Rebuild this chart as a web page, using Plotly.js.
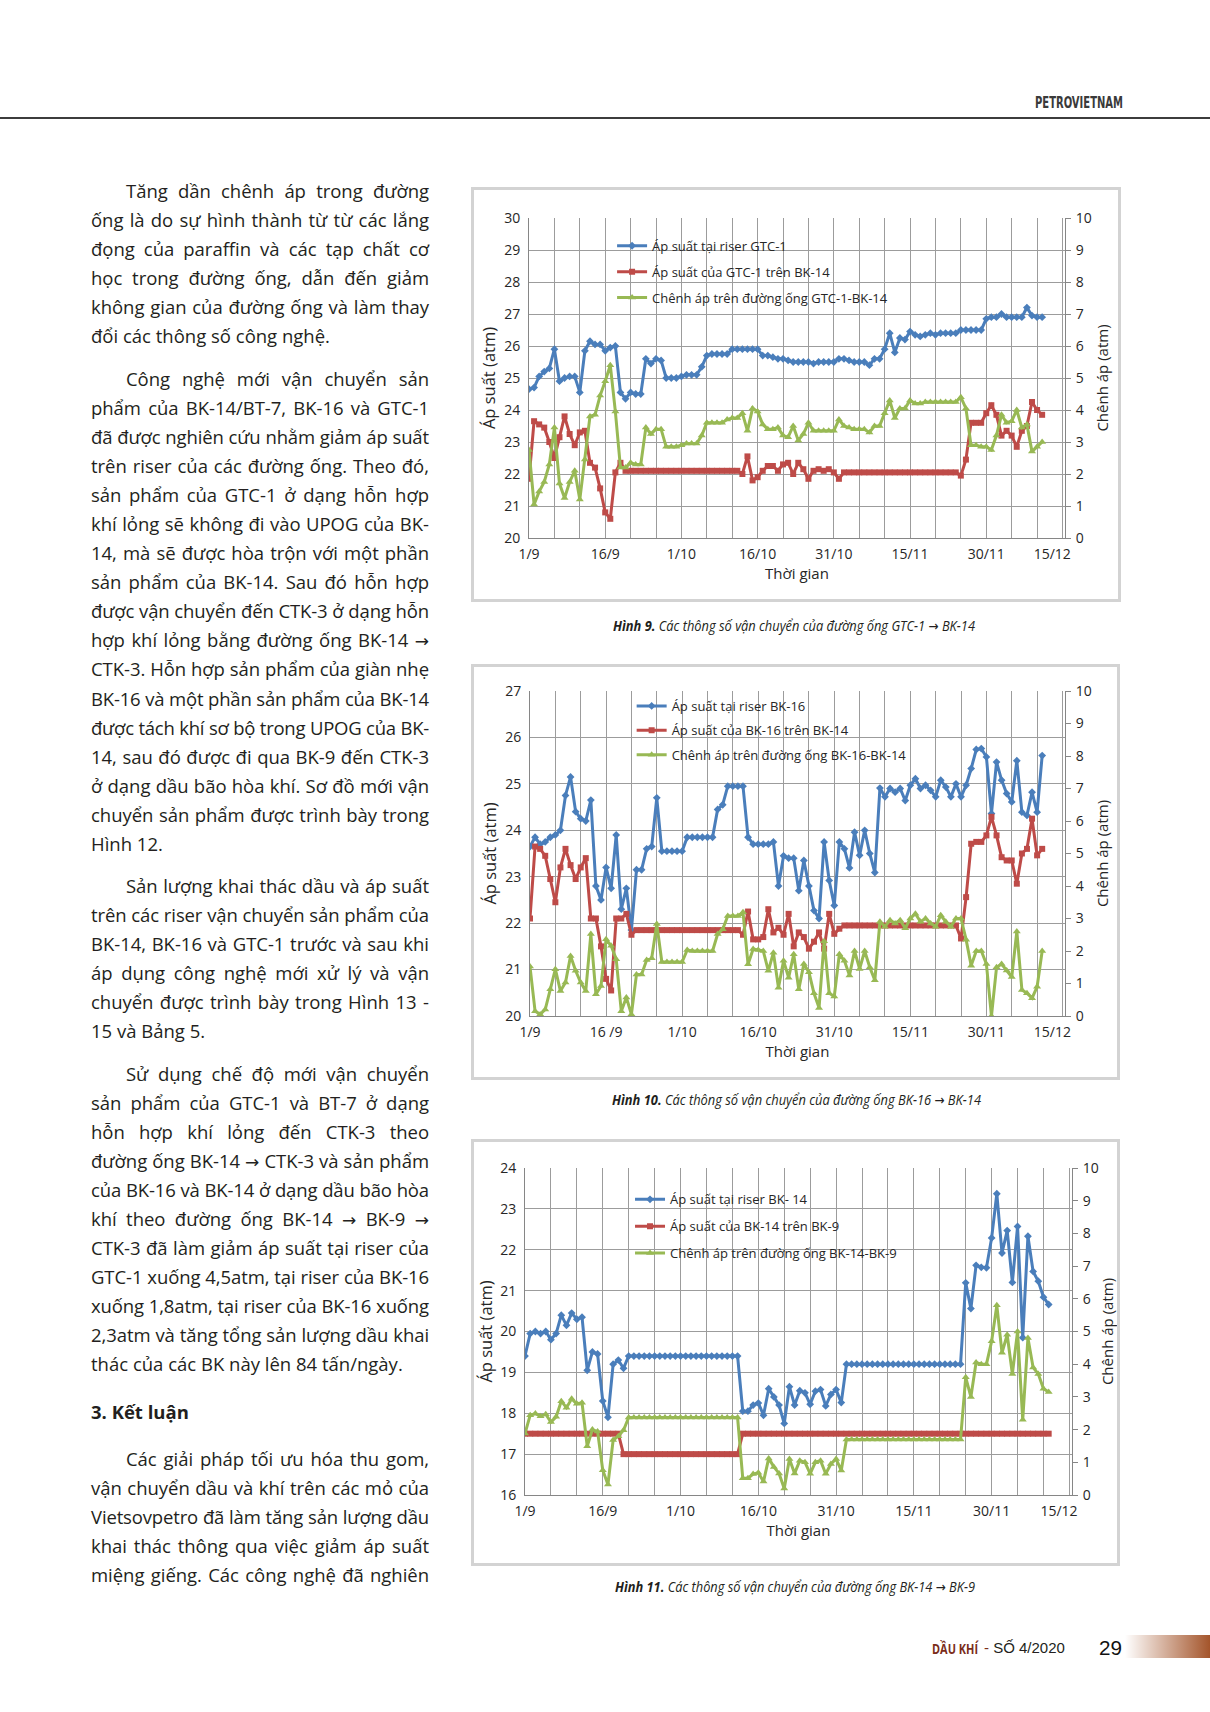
<!DOCTYPE html>
<html><head><meta charset="utf-8">
<script src="https://cdn.plot.ly/plotly-3.0.1.min.js"></script>
<style>
body{margin:0;width:1210px;height:1712px;background:#fff;position:relative;overflow:hidden;font-family:"Open Sans",sans-serif;color:#231f20}
.hdrline{position:absolute;left:0;top:117px;width:1210px;height:2px;background:#3c3c3c}
.col{position:absolute;left:91px;width:338px;font-size:18.5px;line-height:29.05px}
.ln{display:block;text-align:justify;text-align-last:justify;height:29.05px;white-space:nowrap}
.ln.last{text-align-last:left}
.ln.ind{padding-left:35px}
.hd{font-weight:bold}
.ar{font-family:"DejaVu Sans",sans-serif;font-size:17px}
.cap{position:absolute;font-style:italic;font-size:15px;line-height:20px;white-space:nowrap;transform-origin:0 50%;color:#231f20}
.cap b{font-weight:bold}
.cap .a2{font-family:"DejaVu Sans",sans-serif;font-style:normal;font-size:14px}
.dk{position:absolute;left:932px;top:1638px;font-size:15px;line-height:20px;font-weight:bold;color:#7b2d1a;white-space:nowrap;transform-origin:0 50%}
.so{position:absolute;left:984px;top:1638px;font-family:"Liberation Sans",sans-serif;font-size:15px;line-height:20px;white-space:nowrap;color:#231f20}
.so .dash{color:#7b2d1a}
.frame{position:absolute;border:3px solid #d3d3d3;box-sizing:border-box;background:#fff}
.plot{position:absolute;left:0;top:0}
svg.ov{position:absolute;left:0;top:0;pointer-events:none}
</style>
</head><body>
<div class="hdrline"></div>

<div class="col" style="top:176px">
<span class="ln ind">Tăng dần chênh áp trong đường</span>
<span class="ln">ống là do sự hình thành từ từ các lắng</span>
<span class="ln">đọng của paraffin và các tạp chất cơ</span>
<span class="ln">học trong đường ống, dẫn đến giảm</span>
<span class="ln">không gian của đường ống và làm thay</span>
<span class="ln last">đổi các thông số công nghệ.</span>
</div>
<div class="col" style="top:364px">
<span class="ln ind">Công nghệ mới vận chuyển sản</span>
<span class="ln">phẩm của BK-14/BT-7, BK-16 và GTC-1</span>
<span class="ln">đã được nghiên cứu nhằm giảm áp suất</span>
<span class="ln">trên riser của các đường ống. Theo đó,</span>
<span class="ln">sản phẩm của GTC-1 ở dạng hỗn hợp</span>
<span class="ln">khí lỏng sẽ không đi vào UPOG của BK-</span>
<span class="ln">14, mà sẽ được hòa trộn với một phần</span>
<span class="ln">sản phẩm của BK-14. Sau đó hỗn hợp</span>
<span class="ln">được vận chuyển đến CTK-3 ở dạng hỗn</span>
<span class="ln">hợp khí lỏng bằng đường ống BK-14 <span class="ar">→</span></span>
<span class="ln">CTK-3. Hỗn hợp sản phẩm của giàn nhẹ</span>
<span class="ln">BK-16 và một phần sản phẩm của BK-14</span>
<span class="ln">được tách khí sơ bộ trong UPOG của BK-</span>
<span class="ln">14, sau đó được đi qua BK-9 đến CTK-3</span>
<span class="ln">ở dạng dầu bão hòa khí. Sơ đồ mới vận</span>
<span class="ln">chuyển sản phẩm được trình bày trong</span>
<span class="ln last">Hình 12.</span>
</div>
<div class="col" style="top:871px">
<span class="ln ind">Sản lượng khai thác dầu và áp suất</span>
<span class="ln">trên các riser vận chuyển sản phẩm của</span>
<span class="ln">BK-14, BK-16 và GTC-1 trước và sau khi</span>
<span class="ln">áp dụng công nghệ mới xử lý và vận</span>
<span class="ln">chuyển được trình bày trong Hình 13 -</span>
<span class="ln last">15 và Bảng 5.</span>
</div>
<div class="col" style="top:1059px">
<span class="ln ind">Sử dụng chế độ mới vận chuyển</span>
<span class="ln">sản phẩm của GTC-1 và BT-7 ở dạng</span>
<span class="ln">hỗn hợp khí lỏng đến CTK-3 theo</span>
<span class="ln">đường ống BK-14 <span class="ar">→</span> CTK-3 và sản phẩm</span>
<span class="ln">của BK-16 và BK-14 ở dạng dầu bão hòa</span>
<span class="ln">khí theo đường ống BK-14 <span class="ar">→</span> BK-9 <span class="ar">→</span></span>
<span class="ln">CTK-3 đã làm giảm áp suất tại riser của</span>
<span class="ln">GTC-1 xuống 4,5atm, tại riser của BK-16</span>
<span class="ln">xuống 1,8atm, tại riser của BK-16 xuống</span>
<span class="ln">2,3atm và tăng tổng sản lượng dầu khai</span>
<span class="ln last">thác của các BK này lên 84 tấn/ngày.</span>
</div>
<div class="col" style="top:1397px">
<span class="ln last hd">3. Kết luận</span>
</div>
<div class="col" style="top:1444px">
<span class="ln ind">Các giải pháp tối ưu hóa thu gom,</span>
<span class="ln">vận chuyển dầu và khí trên các mỏ của</span>
<span class="ln">Vietsovpetro đã làm tăng sản lượng dầu</span>
<span class="ln">khai thác thông qua việc giảm áp suất</span>
<span class="ln">miệng giếng. Các công nghệ đã nghiên</span>
</div>

<div class="frame" style="left:471px;top:187px;width:650px;height:415px"><div id="c1" class="plot"></div></div>
<div class="frame" style="left:471px;top:664px;width:649px;height:416px"><div id="c2" class="plot"></div></div>
<div class="frame" style="left:471px;top:1139px;width:649px;height:427px"><div id="c3" class="plot"></div></div>

<div class="cap" data-w="362" style="left:613px;top:615px"><b>Hình 9.</b> Các thông số vận chuyển của đường ống GTC-1 <span class="a2">→</span> BK-14</div>
<div class="cap" data-w="369" style="left:612px;top:1089px"><b>Hình 10.</b> Các thông số vận chuyển của đường ống BK-16 <span class="a2">→</span> BK-14</div>
<div class="cap" data-w="360" style="left:615px;top:1576px"><b>Hình 11.</b> Các thông số vận chuyển của đường ống BK-14 <span class="a2">→</span> BK-9</div>

<div class="dk" data-w="46">DẦU KHÍ</div>
<div class="so"><span class="dash">-</span> SỐ 4/2020</div>

<svg class="ov" width="1210" height="1712">
<defs><linearGradient id="gb" x1="0" x2="1" y1="0" y2="0"><stop offset="0" stop-color="#ffffff"/><stop offset="1" stop-color="#a4552b"/></linearGradient></defs>
<text x="1035" y="108" font-family="DejaVu Sans Condensed, Liberation Sans Narrow, Open Sans" font-weight="bold" font-size="15" fill="#3a3a3a" textLength="88" lengthAdjust="spacingAndGlyphs">PETROVIETNAM</text>
<rect x="1125" y="1635" width="85" height="23" fill="url(#gb)"/>
<text x="1099" y="1655" font-family="Liberation Sans, Open Sans" font-size="21" fill="#111" textLength="23" lengthAdjust="spacingAndGlyphs">29</text>
</svg>

<script>
// fit justified lines
document.querySelectorAll('.ln').forEach(function(el){
  var pad = parseFloat(getComputedStyle(el).paddingLeft)||0;
  var avail = 338 - pad;
  var r = document.createRange(); r.selectNodeContents(el);
  var w = r.getBoundingClientRect().width;
  if (w > avail - 1) { el.style.letterSpacing = ((avail - 1 - w) / el.textContent.length) + 'px'; }
  el.style.whiteSpace = 'normal';
});
// condense captions / footer title to the printed width
document.querySelectorAll('.cap, .dk').forEach(function(el){
  var target = parseFloat(el.getAttribute('data-w'));
  var w = el.getBoundingClientRect().width;
  el.style.transform = 'scaleX(' + (target / w) + ')';
});

const startDay = [2019, 8, 1];
const nDays = 102;
const dates = [];
for (let i = 0; i < nDays; i++) { dates.push(new Date(Date.UTC(startDay[0], startDay[1], startDay[2] + i)).toISOString().slice(0, 10)); }

// label positions as printed on the reference axis (last label sits slightly left of its gridline)
const tickDates = ['2019-09-01','2019-09-16','2019-10-01','2019-10-16','2019-10-31','2019-11-15','2019-11-30','2019-12-13'];
const tickLabels1 = ['1/9','16/9','1/10','16/10','31/10','15/11','30/11','15/12'];
const tickLabels2 = ['1/9','16 /9','1/10','16/10','31/10','15/11','30/11','15/12'];
const tickLabels3 = ['1/9','16/9','1/10','16/10','31/10','15/11','30/11','15/12'];

const names1 = ['Áp suất tại riser GTC-1','Áp suất của GTC-1 trên BK-14','Chênh áp trên đường ống GTC-1-BK-14'];
const names2 = ['Áp suất tại riser BK-16','Áp suất của BK-16 trên BK-14','Chênh áp trên đường ống BK-16-BK-14'];
const names3 = ['Áp suất tại riser BK- 14','Áp suất của BK-14 trên BK-9','Chênh áp trên đường ống BK-14-BK-9'];

const blue1 = [24.65,24.7,25.05,25.2,25.3,25.9,24.9,25.0,25.05,25.05,
 24.55,25.85,26.15,26.05,26.05,25.85,25.95,26.0,24.55,24.35,
 24.55,24.5,24.5,25.6,25.45,25.6,25.55,25.0,25.0,25.0,
 25.05,25.1,25.1,25.1,25.35,25.7,25.75,25.75,25.75,25.75,
 25.9,25.9,25.9,25.9,25.9,25.9,25.7,25.7,25.65,25.6,
 25.6,25.55,25.5,25.5,25.5,25.5,25.45,25.5,25.5,25.5,
 25.5,25.6,25.6,25.55,25.5,25.5,25.5,25.4,25.6,25.6,
 25.9,26.4,25.8,26.25,26.2,26.45,26.35,26.3,26.35,26.4,
 26.35,26.4,26.4,26.4,26.4,26.5,26.5,26.5,26.5,26.5,
 26.85,26.9,26.9,27.0,26.9,26.9,26.9,26.9,27.2,26.95,
 26.9,26.9];
const red1 = [21.85,23.65,23.55,23.45,23.0,22.5,23.15,23.8,23.25,22.9,
 23.3,23.35,22.35,22.2,21.55,20.8,20.6,22.05,22.35,22.1,
 22.1,22.1,22.1,22.1,22.1,22.1,22.1,22.1,22.1,22.1,
 22.1,22.1,22.1,22.1,22.1,22.1,22.1,22.1,22.1,22.1,
 22.1,22.1,22.0,22.55,21.8,21.9,22.1,22.25,22.25,22.1,
 22.3,22.35,22.0,22.35,22.15,21.85,22.1,22.15,22.1,22.15,
 22.05,21.85,22.05,22.05,22.05,22.05,22.05,22.05,22.05,22.05,
 22.05,22.05,22.05,22.05,22.05,22.05,22.05,22.05,22.05,22.05,
 22.05,22.05,22.05,22.05,22.05,21.95,22.45,23.6,23.6,23.6,
 23.9,24.15,23.85,23.2,23.35,23.2,22.85,23.35,23.5,24.25,
 24.0,23.85];
const green1 = [2.75,1.05,1.45,1.75,2.3,3.45,1.7,1.25,1.75,2.1,
 1.2,2.45,3.8,3.85,4.45,4.9,5.4,3.95,2.2,2.2,
 2.35,2.3,2.3,3.45,3.25,3.4,3.4,2.85,2.85,2.85,
 2.9,2.95,2.95,2.95,3.2,3.6,3.6,3.6,3.6,3.7,
 3.75,3.75,3.9,3.35,4.05,3.95,3.55,3.4,3.4,3.45,
 3.2,3.15,3.5,3.05,3.25,3.6,3.35,3.35,3.35,3.35,
 3.35,3.7,3.5,3.45,3.4,3.4,3.4,3.3,3.5,3.5,
 3.9,4.3,3.75,4.05,4.05,4.3,4.2,4.2,4.25,4.25,
 4.25,4.25,4.25,4.25,4.25,4.4,4.05,2.9,2.9,2.85,
 2.85,2.75,3.2,3.85,3.6,3.65,4.0,3.45,3.55,2.7,
 2.85,3.0];

const blue2 = [23.65,23.85,23.7,23.75,23.85,23.9,24.0,24.75,25.15,24.4,
 24.25,24.2,24.65,22.8,22.5,23.2,22.75,23.9,22.3,22.75,
 21.85,23.15,23.15,23.6,23.65,24.7,23.55,23.55,23.55,23.55,
 23.55,23.85,23.85,23.85,23.85,23.85,23.85,24.45,24.55,24.95,
 24.95,24.95,24.95,23.85,23.7,23.7,23.7,23.7,23.75,22.8,
 23.45,23.4,23.4,22.7,23.35,22.8,22.27,22.1,23.75,22.92,
 22.38,23.75,23.6,23.19,23.96,23.46,24.0,23.5,23.09,24.91,
 24.72,24.9,24.82,24.9,24.64,24.97,25.11,24.9,24.97,24.86,
 24.72,25.08,24.93,24.72,25.0,24.72,24.97,25.33,25.74,25.76,
 25.58,24.36,25.47,25.08,24.79,24.61,25.5,24.39,24.32,24.82,
 24.39,25.61];
const red2 = [22.1,23.65,23.6,23.45,22.95,22.45,23.2,23.6,23.25,22.95,
 23.2,23.4,22.1,22.1,21.5,20.8,20.55,22.1,22.1,22.2,
 21.75,21.85,21.85,21.85,21.85,21.85,21.85,21.85,21.85,21.85,
 21.85,21.85,21.85,21.85,21.85,21.85,21.85,21.85,21.85,21.85,
 21.85,21.85,21.75,22.25,21.65,21.65,21.7,22.3,21.8,21.9,
 21.75,22.2,21.5,21.8,21.7,21.45,21.6,21.8,21.45,22.2,
 21.77,21.88,21.95,21.95,21.95,21.95,21.95,21.95,21.95,21.95,
 21.95,21.95,21.95,21.95,21.95,21.95,21.95,21.95,21.95,21.95,
 21.95,21.95,21.95,21.95,21.95,21.67,22.56,23.71,23.75,23.75,
 23.89,24.29,23.89,23.42,23.35,23.35,22.85,23.5,23.6,24.25,
 23.46,23.6];
const green2 = [1.52,0.15,0.05,0.2,0.82,1.44,0.77,1.03,1.85,1.39,
 1.03,0.77,2.52,0.67,0.92,2.36,2.16,1.75,0.15,0.57,
 0.05,1.28,1.28,1.72,1.78,2.83,1.66,1.66,1.66,1.66,
 1.66,2.03,2.0,2.0,2.0,2.0,2.0,2.52,2.67,3.08,
 3.08,3.08,3.19,1.59,2.06,2.03,2.0,1.39,1.95,0.87,
 1.7,1.18,1.9,0.82,1.6,1.35,0.7,0.25,2.3,0.7,
 0.6,1.9,1.7,1.25,2.0,1.45,2.0,1.5,1.1,2.9,
 2.75,2.95,2.85,2.95,2.7,3.0,3.15,2.9,3.0,2.85,
 2.75,3.1,2.9,2.75,3.0,3.0,2.35,1.55,2.0,2.0,
 1.6,0.0,1.5,1.6,1.4,1.2,2.6,0.8,0.7,0.55,
 0.9,2.0];

const blue3 = [19.4,19.95,20.0,19.95,20.0,19.8,19.95,20.4,20.15,20.45,
 20.3,20.35,19.05,19.5,19.45,18.3,17.9,19.2,19.3,19.1,
 19.4,19.4,19.4,19.4,19.4,19.4,19.4,19.4,19.4,19.4,
 19.4,19.4,19.4,19.4,19.4,19.4,19.4,19.4,19.4,19.4,
 19.4,19.4,18.05,18.05,18.2,18.25,17.95,18.6,18.4,18.2,
 17.75,18.65,18.2,18.55,18.5,18.22,18.54,18.58,18.18,18.46,
 18.58,18.26,19.2,19.2,19.2,19.2,19.2,19.2,19.2,19.2,
 19.2,19.2,19.2,19.2,19.2,19.2,19.2,19.2,19.2,19.2,
 19.2,19.2,19.2,19.2,19.2,21.19,20.56,21.62,21.57,21.56,
 22.29,23.37,21.92,22.47,21.2,22.57,19.85,22.33,21.47,21.23,
 20.84,20.66];
const red3 = [17.5,17.5,17.5,17.5,17.5,17.5,17.5,17.5,17.5,17.5,
 17.5,17.5,17.5,17.5,17.5,17.5,17.5,17.5,17.5,17.0,
 17.0,17.0,17.0,17.0,17.0,17.0,17.0,17.0,17.0,17.0,
 17.0,17.0,17.0,17.0,17.0,17.0,17.0,17.0,17.0,17.0,
 17.0,17.0,17.5,17.5,17.5,17.5,17.5,17.5,17.5,17.5,
 17.5,17.5,17.5,17.5,17.5,17.5,17.5,17.5,17.5,17.5,
 17.5,17.5,17.5,17.5,17.5,17.5,17.5,17.5,17.5,17.5,
 17.5,17.5,17.5,17.5,17.5,17.5,17.5,17.5,17.5,17.5,
 17.5,17.5,17.5,17.5,17.5,17.5,17.5,17.5,17.5,17.5,
 17.5,17.5,17.5,17.5,17.5,17.5,17.5,17.5,17.5,17.5,
 17.5,17.5];
const green3 = [1.88,2.44,2.49,2.41,2.47,2.23,2.39,2.87,2.67,2.94,
 2.79,2.82,1.49,2.0,1.94,0.76,0.32,1.68,1.8,1.98,
 2.37,2.37,2.37,2.37,2.37,2.37,2.37,2.37,2.37,2.37,
 2.37,2.37,2.37,2.37,2.37,2.37,2.37,2.37,2.37,2.37,
 2.37,2.37,0.51,0.51,0.64,0.68,0.41,1.12,0.86,0.66,
 0.2,1.1,0.66,1.05,1.0,0.65,1.0,1.05,0.65,0.95,
 1.1,0.75,1.7,1.7,1.7,1.7,1.7,1.7,1.7,1.7,
 1.7,1.7,1.7,1.7,1.7,1.7,1.7,1.7,1.7,1.7,
 1.7,1.7,1.7,1.7,1.7,3.6,3.0,4.05,4.0,4.0,
 4.7,5.8,4.35,4.9,3.7,5.0,2.3,4.8,3.9,3.7,
 3.25,3.15];

const C_BLUE = '#4a7ebb', C_RED = '#be4b48', C_GREEN = '#98b954';
const GRID = '#9c9c9c', AXL = '#868686';

function makeChart(id, o) {
  const traces = [
    {x: dates, y: o.blue, name: o.names[0], type: 'scatter', mode: 'lines+markers', yaxis: 'y', legendgroup: 'a',
     line: {color: C_BLUE, width: 3}, marker: {symbol: 'diamond', size: 6, color: C_BLUE}},
    {x: dates, y: o.red, name: o.names[1], type: 'scatter', mode: 'lines+markers', yaxis: 'y', legendgroup: 'b',
     line: {color: C_RED, width: 3}, marker: {symbol: 'square', size: 6, color: C_RED}},
    {x: dates, y: o.green, name: o.names[2], type: 'scatter', mode: 'lines+markers', yaxis: 'y2', legendgroup: 'c',
     line: {color: C_GREEN, width: 3}, marker: {symbol: 'triangle-up', size: 7, color: C_GREEN}}
  ];
  const layout = {
    width: o.w, height: o.h,
    margin: o.m,
    paper_bgcolor: '#fff', plot_bgcolor: '#fff',
    font: {family: 'Open Sans, sans-serif', size: 14, color: '#262626'},
    showlegend: true,
    legend: {x: o.lx, y: o.ly, xanchor: 'left', yanchor: 'top', bgcolor: 'rgba(0,0,0,0)',
      font: {size: 13, color: '#262626'}, itemwidth: 30, tracegroupgap: o.gap, traceorder: 'grouped'},
    xaxis: {type: 'date', range: ['2019-09-01', '2019-12-15 12:00'], tickmode: 'array', tickvals: tickDates, ticktext: o.ticks,
      showgrid: false, showline: true, linecolor: AXL, linewidth: 1, ticks: '',
      ticklabelstandoff: 3, zeroline: false,
      minor: {tick0: '2019-09-01', dtick: 5 * 86400000, showgrid: true, gridcolor: GRID, gridwidth: 1},
      title: {text: 'Thời gian', font: {size: 15}, standoff: 2}},
    yaxis: {range: o.yr, dtick: 1, showgrid: true, gridcolor: GRID, gridwidth: 1, showline: true, linecolor: AXL,
      ticks: '', ticklabelstandoff: 5, zeroline: false, fixedrange: true,
      title: {text: 'Áp suất (atm)', font: {size: 16.5}, standoff: 4}},
    yaxis2: {overlaying: 'y', side: 'right', range: [0, 10], dtick: 1, showgrid: false, showline: true, linecolor: AXL,
      ticks: 'outside', ticklen: 5, tickcolor: AXL, ticklabelstandoff: 2, zeroline: false,
      title: {text: 'Chênh áp (atm)', font: {size: 15}, standoff: 6}}
  };
  Plotly.newPlot(id, traces, layout, {staticPlot: true, displayModeBar: false});
}

makeChart('c1', {blue: blue1, red: red1, green: green1, names: names1, ticks: tickLabels1, yr: [20, 30],
  w: 644, h: 409, m: {l: 55, r: 53, t: 28, b: 61, pad: 0}, lx: 0.155, ly: 0.96, gap: 6});
makeChart('c2', {blue: blue2, red: red2, green: green2, names: names2, ticks: tickLabels2, yr: [20, 27],
  w: 643, h: 410, m: {l: 56, r: 52, t: 24, b: 61, pad: 0}, lx: 0.19, ly: 1.0, gap: 4.5});
makeChart('c3', {blue: blue3, red: red3, green: green3, names: names3, ticks: tickLabels3, yr: [16, 24],
  w: 643, h: 421, m: {l: 51, r: 45, t: 26, b: 68, pad: 0}, lx: 0.192, ly: 0.95, gap: 7});
</script>
</body></html>
